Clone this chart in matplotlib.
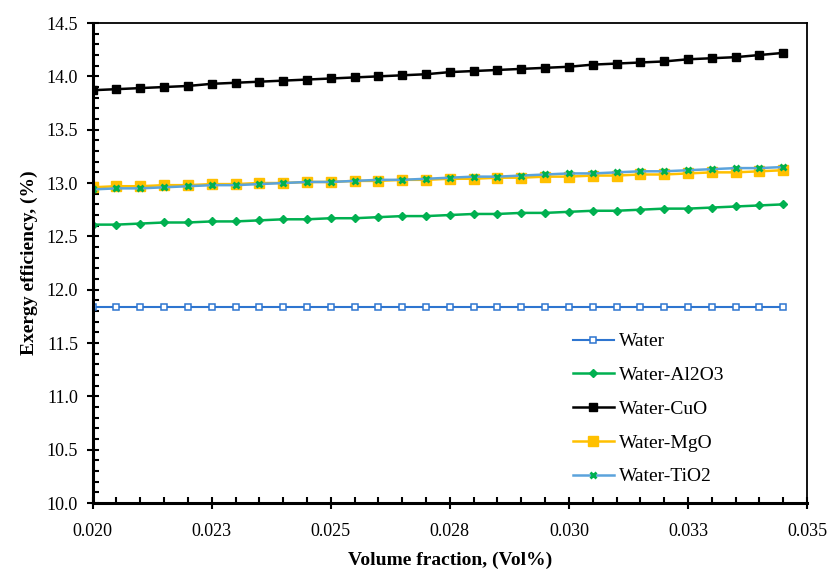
import matplotlib
matplotlib.use('Agg')
import matplotlib.pyplot as plt
from matplotlib.ticker import MultipleLocator, FixedLocator, FixedFormatter

# Volume fraction (Vol%)
vol = [0.0200, 0.0205, 0.0210, 0.0215, 0.0220, 0.0225, 0.0230, 0.0235, 0.0240, 0.0245,
       0.0250, 0.0255, 0.0260, 0.0265, 0.0270, 0.0275, 0.0280, 0.0285, 0.0290, 0.0295,
       0.0300, 0.0305, 0.0310, 0.0315, 0.0320, 0.0325, 0.0330, 0.0335, 0.0340, 0.0345]

# Exergy efficiency (%)
water = [11.84, 11.84, 11.84, 11.84, 11.84, 11.84, 11.84, 11.84, 11.84, 11.84,
         11.84, 11.84, 11.84, 11.84, 11.84, 11.84, 11.84, 11.84, 11.84, 11.84,
         11.84, 11.84, 11.84, 11.84, 11.84, 11.84, 11.84, 11.84, 11.84, 11.84]
al2o3 = [12.61, 12.61, 12.62, 12.63, 12.63, 12.64, 12.64, 12.65, 12.66, 12.66,
         12.67, 12.67, 12.68, 12.69, 12.69, 12.70, 12.71, 12.71, 12.72, 12.72,
         12.73, 12.74, 12.74, 12.75, 12.76, 12.76, 12.77, 12.78, 12.79, 12.80]
cuo = [13.87, 13.88, 13.89, 13.90, 13.91, 13.93, 13.94, 13.95, 13.96, 13.97,
       13.98, 13.99, 14.00, 14.01, 14.02, 14.04, 14.05, 14.06, 14.07, 14.08,
       14.09, 14.11, 14.12, 14.13, 14.14, 14.16, 14.17, 14.18, 14.20, 14.22]
mgo = [12.96, 12.97, 12.97, 12.98, 12.98, 12.99, 12.99, 13.00, 13.00, 13.01,
       13.01, 13.02, 13.02, 13.03, 13.03, 13.04, 13.04, 13.05, 13.05, 13.06,
       13.06, 13.07, 13.07, 13.08, 13.08, 13.09, 13.10, 13.10, 13.11, 13.12]
tio2 = [12.94, 12.95, 12.95, 12.96, 12.97, 12.98, 12.98, 12.99, 13.00, 13.01,
        13.01, 13.02, 13.03, 13.03, 13.04, 13.05, 13.06, 13.06, 13.07, 13.08,
        13.09, 13.09, 13.10, 13.11, 13.11, 13.12, 13.13, 13.14, 13.14, 13.15]

xticks = [0.020, 0.0225, 0.025, 0.0275, 0.030, 0.0325, 0.035]
xtick_labels = ['0.020', '0.023', '0.025', '0.028', '0.030', '0.033', '0.035']

plt.rcParams['font.family'] = ['Liberation Serif', 'DejaVu Serif']

fig = plt.figure(figsize=(8.29, 5.70), dpi=100)
ax = fig.add_axes([0.1118, 0.1175, 0.8617, 0.8421])

# Series
ax.plot(vol, water, color='#2E75D0', lw=1.5, marker='s', ms=4.2,
        mfc='white', mec='#2E75D0', mew=1.1, label='Water')
ax.plot(vol, al2o3, color='#00B050', lw=1.8, marker='D', ms=4,
        mfc='#00B050', mec='#00B050', label='Water-Al2O3')
ax.plot(vol, cuo, color='black', lw=1.8, marker='s', ms=6,
        mfc='black', mec='black', label='Water-CuO')
ax.plot(vol, mgo, color='#FFC000', lw=1.8, marker='s', ms=7.5,
        mfc='#FFC000', mec='#FFC000', label='Water-MgO')
ax.plot(vol, tio2, color='#5BA3DC', lw=1.8, marker='x', ms=5,
        mec='#00B050', mew=2, label='Water-TiO2')

ax.set_xlim(0.020, 0.035)
ax.set_ylim(10.0, 14.5)

ax.xaxis.set_major_locator(FixedLocator(xticks))
ax.xaxis.set_major_formatter(FixedFormatter(xtick_labels))
ax.xaxis.set_minor_locator(MultipleLocator(0.0005))
ax.yaxis.set_major_locator(MultipleLocator(0.5))
ax.yaxis.set_minor_locator(MultipleLocator(0.1))
ax.yaxis.set_major_formatter(plt.FormatStrFormatter('%.1f'))

ax.tick_params(which='major', direction='inout', length=9, width=1.5,
               labelsize=13, pad=10)
ax.tick_params(which='minor', direction='in', length=4.5, width=1.5)
ax.tick_params(axis='y', which='major', pad=6)

for side in ['left', 'bottom']:
    ax.spines[side].set_linewidth(2.2)
for side in ['top', 'right']:
    ax.spines[side].set_linewidth(1.3)

ax.set_xlabel('Volume fraction, (Vol%)', fontsize=14, fontweight='bold', labelpad=8)
ax.set_ylabel('Exergy efficiency, (%)', fontsize=14, fontweight='bold', labelpad=6)

ax.legend(loc='upper left', bbox_to_anchor=(0.67, 0.447), bbox_transform=fig.transFigure,
          frameon=False, fontsize=14, labelspacing=0.83, handlelength=2.1,
          handletextpad=0.25)

fig.savefig('out.png', dpi=100, facecolor='white')
